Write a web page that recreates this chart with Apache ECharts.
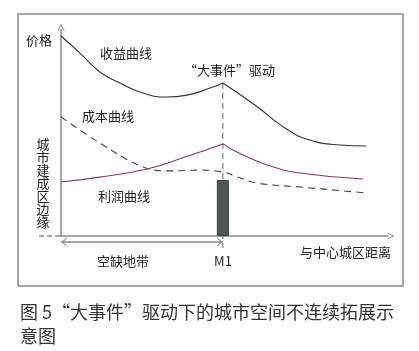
<!DOCTYPE html>
<html>
<head>
<meta charset="utf-8">
<script src="https://cdn.jsdelivr.net/npm/echarts@6/dist/echarts.min.js"></script>
<style>
  html, body { margin: 0; padding: 0; background: #fff; }
  #main { width: 419px; height: 351px; }
</style>
</head>
<body>
<div id="main"></div>
<script>
// 示意图数据（横轴：与中心城区距离 0-100，纵轴：价格 0-100）
const m1 = 49.5;            // “大事件”所在位置
const barHeight = 27.2;     // M1 处柱子高度

// 收益曲线（以M1为界分两段，保持尖角）
const revenueLeftX = [0, 5.8, 11.9, 18.0, 25.1, 32.4, 38.5, 45.6, 49.5];
const revenueLeftY = [97.1, 88.8, 79.6, 74.3, 69.4, 67.5, 68.4, 71.8, 74.3];
const revenueRightX = [49.5, 59.3, 68.5, 76.1, 85.3, 93.3];
const revenueRightY = [74.3, 63.6, 52.4, 46.6, 44.2, 43.7];

// 成本曲线（虚线）
const costX = [0, 11.9, 25.1, 33.3, 42.5, 49.5, 53.2, 59.9, 73.1, 93.3];
const costY = [57.8, 45.1, 33.5, 31.6, 32.0, 31.1, 29.1, 25.7, 23.8, 20.9];

// 利润曲线
const profitLeftX = [0, 11.9, 26.3, 37.9, 49.5];
const profitLeftY = [26.2, 28.6, 32.5, 38.3, 44.7];
const profitRightX = [49.5, 53.8, 63.0, 73.1, 92.4];
const profitRightY = [44.7, 40.8, 34.5, 30.6, 27.7];

const zip = (xs, ys) => xs.map((x, i) => [x, ys[i]]);

const font = '"Noto Sans CJK SC", "Noto Sans", sans-serif';
const arrowUp = 'path://M5,0 L10,10 L8.6,10 L5,2.8 L1.4,10 L0,10 Z';
const arrowRight = 'path://M0,0 L10,5 L0,10 L0,8.6 L7.2,5 L0,1.4 Z';
const arrowLeft = 'path://M10,0 L0,5 L10,10 L10,8.6 L2.8,5 L10,1.4 Z';

const myChart = echarts.init(document.getElementById('main'));

const txt = (x, y, text, size, extra) => Object.assign({
    type: 'text', x, y,
    style: {text, fill: '#222', font: `${size || 13}px ${font}`, textVerticalAlign: 'middle'}
}, extra || {});

const option = {
    animation: false,
    grid: {left: 61, top: 30, right: 31, bottom: 115},
    xAxis: {
        type: 'value', min: 0, max: 100,
        splitLine: {show: false}, axisTick: {show: false}, axisLabel: {show: false},
        axisLine: {show: true, lineStyle: {color: '#8a8a8a', width: 1.5},
            symbol: ['none', arrowUp], symbolSize: [9, 7], symbolOffset: [0, 3]}
    },
    yAxis: {
        type: 'value', min: 0, max: 100,
        splitLine: {show: false}, axisTick: {show: false}, axisLabel: {show: false},
        axisLine: {show: true, lineStyle: {color: '#8a8a8a', width: 1.5},
            symbol: ['none', arrowUp], symbolSize: [9, 7], symbolOffset: [0, 3]}
    },
    series: [
        {   // M1 柱
            type: 'bar', data: [[m1, barHeight]], barWidth: 12,
            itemStyle: {color: '#4d5654', borderColor: '#3a403f', borderWidth: 1}
        },
        {
            type: 'line', data: zip(revenueLeftX, revenueLeftY), smooth: 0.5,
            showSymbol: false, lineStyle: {color: '#333', width: 1.1}
        },
        {
            type: 'line', data: zip(revenueRightX, revenueRightY), smooth: 0.5,
            showSymbol: false, lineStyle: {color: '#333', width: 1.1}
        },
        {
            type: 'line', data: zip(costX, costY), smooth: 0.4,
            showSymbol: false, lineStyle: {color: '#444', width: 1.1, type: [7, 5]}
        },
        {
            type: 'line', data: zip(profitLeftX, profitLeftY), smooth: 0.5,
            showSymbol: false, lineStyle: {color: '#8b3a4b', width: 1.1}
        },
        {
            type: 'line', data: zip(profitRightX, profitRightY), smooth: 0.5,
            showSymbol: false, lineStyle: {color: '#8b3a4b', width: 1.1}
        },
        {   // M1 竖向虚线
            type: 'line', clip: false, showSymbol: false, z: 1,
            data: [[m1, 74.3], [m1, -5.8]],
            lineStyle: {color: '#666', width: 1, type: [6, 4]}
        },
        {   // 空缺地带双向箭头
            type: 'line', clip: false, showSymbol: true,
            data: [
                {value: [0, -2.9], symbol: arrowLeft, symbolSize: [6, 9], symbolOffset: [3, 0]},
                {value: [m1, -2.9], symbol: arrowRight, symbolSize: [6, 9], symbolOffset: [-3, 0]}
            ],
            itemStyle: {color: '#8a8a8a'},
            lineStyle: {color: '#8a8a8a', width: 1.5}
        }
    ],
    graphic: [
        {type: 'rect', shape: {x: 18, y: 14, width: 385, height: 272},
            style: {fill: 'none', stroke: '#8a8a8a', lineWidth: 1.5}},
        {type: 'line', shape: {x1: 39, y1: 236, x2: 60, y2: 236},
            style: {stroke: '#8a8a8a', lineWidth: 1.5, lineDash: [5, 3]}},
        txt(26, 40, '价格'),
        txt(100, 53, '收益曲线'),
        txt(184, 70, '“大事件”驱动'),
        txt(82, 116, '成本曲线'),
        txt(98, 196, '利润曲线'),
        txt(97, 261, '空缺地带'),
        txt(223, 261, 'M1', 13, {style: {text: 'M1', fill: '#222', font: `13px ${font}`,
            textAlign: 'center', textVerticalAlign: 'middle'}}),
        txt(300, 252, '与中心城区距离'),
        {type: 'text', x: 43, y: 138,
            style: {text: '城\n市\n建\n成\n区\n边\n缘', fill: '#222', font: `13px ${font}`,
                textAlign: 'center', lineHeight: 13}},
        txt(20, 312, '图 5“大事件”驱动下的城市空间不连续拓展示', 18, {style: {
            text: '图 5“大事件”驱动下的城市空间不连续拓展示', fill: '#333',
            font: `18px ${font}`, textVerticalAlign: 'middle'}}),
        txt(20, 336, '意图', 18, {style: {text: '意图', fill: '#333',
            font: `18px ${font}`, textVerticalAlign: 'middle'}})
    ]
};

myChart.setOption(option);
</script>
</body>
</html>
